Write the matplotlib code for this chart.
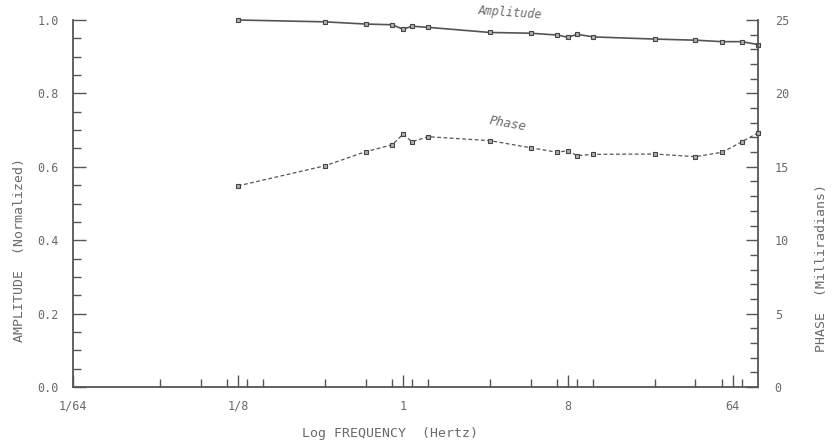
import numpy as np
import matplotlib.pyplot as plt
from matplotlib.ticker import FixedLocator, MultipleLocator, NullFormatter

# measured frequencies (Hz)
freq = [1/8, 3/8, 5/8, 7/8, 1, 9/8, 11/8, 3, 5, 7, 8, 9, 11, 24, 40, 56, 72, 88]

# normalized amplitude
amplitude = [1.000, 0.995, 0.989, 0.987, 0.975, 0.983, 0.980, 0.966, 0.964,
             0.959, 0.953, 0.961, 0.954, 0.948, 0.945, 0.941, 0.941, 0.933]

# phase in milliradians
phase = [13.7, 15.07, 16.03, 16.5, 17.21, 16.71, 17.05, 16.78, 16.3,
         15.99, 16.1, 15.76, 15.85, 15.87, 15.69, 15.99, 16.71, 17.32]

x_major = [1/64, 1/8, 1, 8, 64]
x_labels = ['1/64', '1/8', '1', '8', '64']
x_minor_mult = [3/8, 5/8, 7/8, 9/8, 11/8]

plt.rcParams['font.family'] = 'DejaVu Sans Mono'

ink = '#555555'
txt = '#6a6a6a'

fig = plt.figure(figsize=(8.37, 4.45), dpi=100)
ax = fig.add_axes([73/837, 1 - 387/445, (758 - 73)/837, (387 - 20)/445])
ax2 = ax.twinx()

mk = dict(marker='s', ms=3.2, mfc='#b0b0b0', mec='#444444', mew=0.8,
          zorder=3, clip_on=False)
ax.plot(freq, amplitude, '-', color=ink, lw=1.2, **mk)
ax2.plot(freq, phase, color=ink, lw=0.9, ls=(0, (3, 2)), **mk)

ax.set_xscale('log', base=2)
ax.set_xlim(1/64, 88)
ax.set_ylim(0, 1.0)
ax2.set_ylim(0, 25)

ax.xaxis.set_major_locator(FixedLocator(x_major))
ax.set_xticklabels(x_labels)
minor = [m * k for m in x_major[1:] for k in x_minor_mult if m * k < 88]
ax.xaxis.set_minor_locator(FixedLocator(minor))
ax.xaxis.set_minor_formatter(NullFormatter())

ax.yaxis.set_major_locator(MultipleLocator(0.2))
ax.yaxis.set_minor_locator(MultipleLocator(0.05))
ax.yaxis.set_major_formatter(plt.FuncFormatter(lambda v, _: f'{v:.1f}'))
ax2.yaxis.set_major_locator(MultipleLocator(5))
ax2.yaxis.set_minor_locator(MultipleLocator(1))

for a in (ax, ax2):
    a.spines['top'].set_visible(False)
    for s in a.spines.values():
        s.set_color(ink)
        s.set_linewidth(1.3)
    a.tick_params(which='both', direction='in', color=ink, width=1.0,
                  labelcolor=txt, labelsize=8.5)
    a.tick_params(which='major', length=9)
    a.tick_params(which='minor', length=6)
    a.set_facecolor('none')

ax.tick_params(axis='y', pad=10)
ax.tick_params(axis='x', pad=9)
ax2.tick_params(axis='y', pad=12)
ax.spines['right'].set_visible(False)
ax2.spines['left'].set_visible(False)
ax2.spines['bottom'].set_visible(False)

ax.text(3.85, 1.02, 'Amplitude', fontsize=8.5, color=txt, style='italic',
        rotation=-4, ha='center', va='center', clip_on=False)
ax.text(3.76, 0.717, 'Phase', fontsize=9, color=txt, style='italic',
        rotation=-10, ha='center', va='center')

fig.text(20/837, 1 - 250/445, 'AMPLITUDE  (Normalized)', rotation=90,
         fontsize=9.5, color=txt, ha='center', va='center')
fig.text(822/837, 1 - 268/445, 'PHASE  (Milliradians)', rotation=90,
         fontsize=9.5, color=txt, ha='center', va='center')
fig.text(390/837, 1 - 434/445, 'Log FREQUENCY  (Hertz)',
         fontsize=9.5, color=txt, ha='center', va='center')

fig.savefig('out.png', dpi=100)
